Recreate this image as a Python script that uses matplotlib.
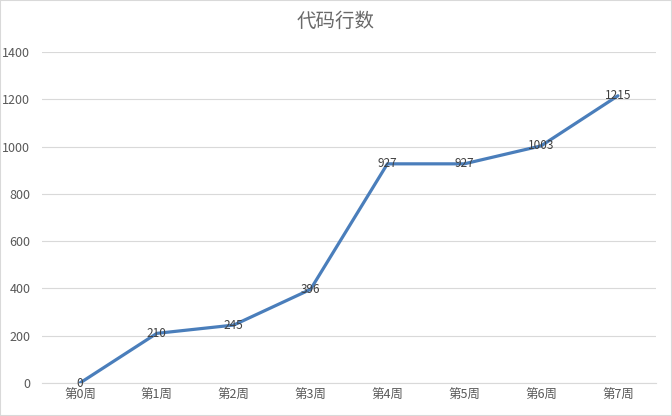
import matplotlib
matplotlib.use("Agg")
import matplotlib.pyplot as plt
from matplotlib.patches import Rectangle

plt.rcParams['font.family'] = ['Noto Sans CJK SC', 'DejaVu Sans']

# datos del grafico
weeks = ['第0周', '第1周', '第2周', '第3周', '第4周', '第5周', '第6周', '第7周']
lines = [0, 210, 245, 396, 927, 927, 1003, 1215]
yticks = [0, 200, 400, 600, 800, 1000, 1200, 1400]

fig = plt.figure(figsize=(6.72, 4.16), dpi=100)
fig.patches.append(Rectangle((0, 0), 1, 1, transform=fig.transFigure,
                             fill=False, edgecolor='#d9d9d9', linewidth=1.5))
ax = fig.add_axes([0.0618, 0.0793, 0.915, 0.7957])

x = list(range(len(weeks)))
ax.plot(x, lines, color='#4a7ebb', linewidth=2.3, solid_capstyle='round', zorder=3)
for xi, v in zip(x, lines):
    ax.text(xi, v, str(v), ha='center', va='center', fontsize=8.5,
            color='#404040', zorder=4)

ax.set_xlim(-0.5, len(weeks) - 0.5)
ax.set_ylim(0, 1400)
ax.set_xticks(x)
ax.set_xticklabels(weeks)
ax.set_yticks(yticks)
ax.grid(axis='y', color='#d9d9d9', linewidth=0.8)
ax.set_axisbelow(True)
for s in ['top', 'right', 'left']:
    ax.spines[s].set_visible(False)
ax.spines['bottom'].set_color('#d9d9d9')
ax.tick_params(axis='both', length=0, colors='#595959', labelsize=9)
ax.tick_params(axis='x', pad=4)
ax.tick_params(axis='y', pad=8)

fig.text(0.5, 0.948, '代码行数', ha='center', va='center', fontsize=14,
         color='#6a6a6a', fontweight='light')

fig.savefig('out.png', dpi=100)
